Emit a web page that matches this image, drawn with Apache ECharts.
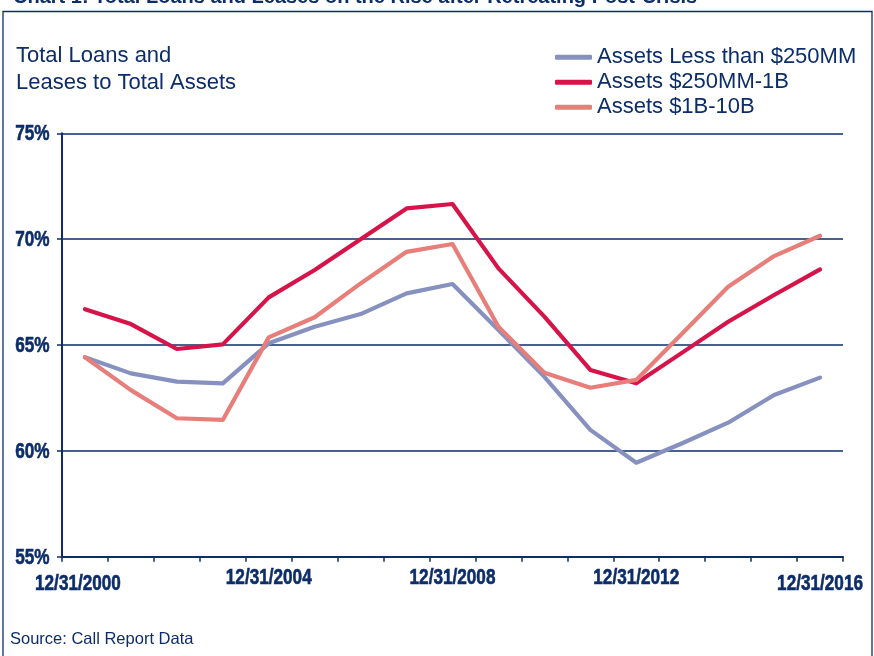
<!DOCTYPE html>
<html>
<head>
<meta charset="utf-8">
<script src="https://cdn.jsdelivr.net/npm/echarts@6/dist/echarts.min.js"></script>
<style>
html,body{margin:0;padding:0;background:#fff;}
#chart{width:874px;height:656px;}
</style>
</head>
<body>
<div id="chart"></div>
<script>
// Data (year-end values, %)
const categories = ['12/31/2000','12/31/2001','12/31/2002','12/31/2003','12/31/2004','12/31/2005','12/31/2006','12/31/2007','12/31/2008','12/31/2009','12/31/2010','12/31/2011','12/31/2012','12/31/2013','12/31/2014','12/31/2015','12/31/2016'];
const seriesNames = ['Assets Less than $250MM','Assets $250MM-1B','Assets $1B-10B'];
const lessThan250MM = [64.42,63.66,63.27,63.19,65.08,65.86,66.46,67.44,67.88,65.71,63.50,60.99,59.44,60.36,61.33,62.64,63.46];
const from250MMto1B = [66.69,65.99,64.81,65.03,67.25,68.54,70.00,71.45,71.66,68.62,66.34,63.82,63.19,64.64,66.10,67.36,68.57];
const from1Bto10B   = [64.42,62.87,61.54,61.46,65.36,66.31,67.91,69.40,69.77,65.86,63.69,62.98,63.35,65.54,67.75,69.20,70.16];
const yTicks = [55,60,65,70,75];
const xLabelIndices = [0,4,8,12,16];

const NAVY = '#0c2d69';
const colors = ['#8791bf','#d6144a','#e87e7a'];
const sans = '"Liberation Sans",Arial,sans-serif';
const NARROW = 0.78;

const chart = echarts.init(document.getElementById('chart'), null, {renderer:'canvas'});
const valueSeries = [lessThan250MM, from250MMto1B, from1Bto10B];

const staticGraphics = [
  {id:'frame', type:'rect', shape:{x:3, y:11.5, width:869, height:700}, style:{fill:'none', stroke:NAVY, lineWidth:1.3}, silent:true},
  {id:'title', type:'text', x:13, y:-2.6, style:{text:'Chart 1: Total Loans and Leases on the Rise after Retreating Post-Crisis', font:'bold 20px '+sans, fill:NAVY, verticalAlign:'middle'}},
  {id:'ytitle', type:'text', left:16, top:43, style:{text:'Total Loans and\nLeases to Total Assets', font:'22px '+sans, lineHeight:26.7, fill:NAVY}},
  {id:'source', type:'text', left:10, top:631, style:{text:'Source: Call Report Data', font:'16.5px '+sans, fill:NAVY}}
];

chart.setOption({
  animation:false,
  backgroundColor:'#ffffff',
  color:colors,
  grid:{left:62, right:31, top:133.3, bottom:656-556.7, containLabel:false},
  legend:{
    orient:'vertical', left:550, top:39.7,
    icon:'roundRect', itemWidth:37, itemHeight:5, itemGap:0,
    textStyle:{fontFamily:sans, fontSize:22, lineHeight:25, color:NAVY},
    data:seriesNames
  },
  graphic:staticGraphics,
  xAxis:{
    type:'category', data:categories, boundaryGap:true,
    axisLine:{show:true, lineStyle:{color:NAVY, width:2}},
    axisTick:{show:true, interval:0, alignWithLabel:false, length:5, lineStyle:{color:NAVY, width:1.5}},
    axisLabel:{show:false},
    splitLine:{show:false}
  },
  yAxis:{
    type:'value', min:yTicks[0], max:yTicks[yTicks.length-1], interval:5,
    axisLine:{show:true, lineStyle:{color:NAVY, width:2}},
    axisTick:{show:true, length:5, lineStyle:{color:NAVY, width:1.5}},
    axisLabel:{show:false},
    splitLine:{show:true, lineStyle:{color:NAVY, width:1.6}}
  },
  series: seriesNames.map(function(name, k){
    return {
      name:name, type:'line', data:valueSeries[k], symbol:'none', smooth:false,
      lineStyle:{width:4.2, color:colors[k], cap:'round', join:'round'},
      itemStyle:{color:colors[k]},
      z:2+k
    };
  })
});

// Tick labels in a narrow heavy face, placed through the chart's own scales
const axisY = chart.convertToPixel({yAxisIndex:0}, yTicks[0]);
const axisX = chart.convertToPixel({xAxisIndex:0}, 0) - (chart.convertToPixel({xAxisIndex:0}, 1) - chart.convertToPixel({xAxisIndex:0}, 0)) / 2;
const labelStyle = {font:'bold 22px '+sans, fill:NAVY, stroke:NAVY, lineWidth:0.6, verticalAlign:'middle'};
const labelGraphics = [];
xLabelIndices.forEach(function(i, n){
  const low = (i === 0 || i === categories.length - 1);
  const px = chart.convertToPixel({xAxisIndex:0}, i) + (i === 0 ? -7 : 0);
  labelGraphics.push({
    id:'xl'+n, type:'text', x:px, y:axisY + (low ? 27 : 21.5), scaleX:NARROW,
    style:Object.assign({text:categories[i], align:'center'}, labelStyle)
  });
});
yTicks.forEach(function(v, n){
  labelGraphics.push({
    id:'yl'+n, type:'text', x:axisX - 12.5, y:chart.convertToPixel({yAxisIndex:0}, v) + 1, scaleX:NARROW,
    style:Object.assign({text:v + '%', align:'right'}, labelStyle)
  });
});
chart.setOption({graphic:staticGraphics.concat(labelGraphics)});
</script>
</body>
</html>
